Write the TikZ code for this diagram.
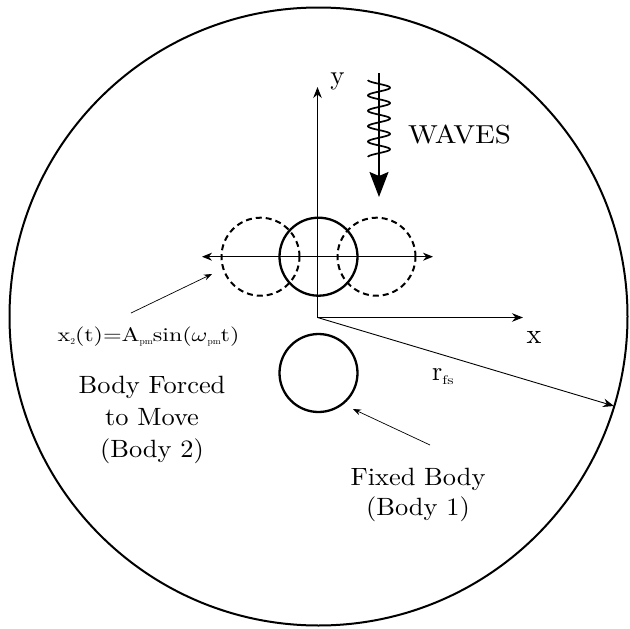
\documentclass[tikz,border=0pt]{standalone}
\usetikzlibrary{arrows.meta}
\usepackage{graphicx}
\newcommand{\bigtx}[1]{\scalebox{2.64}[2.5]{#1}}
\newcommand{\eqtx}[1]{\scalebox{2.4}[1.95]{#1}}
\newcommand{\subtx}[1]{\raisebox{-2.5pt}{\scalebox{0.95}[0.9]{#1}}}
\begin{document}
\begin{tikzpicture}[x=1pt,y=-1pt,
  ax/.style={line width=0.9pt,-{Stealth[length=11pt,width=8.5pt]}},
  lbl/.style={line width=0.7pt,-{Stealth[length=8pt,width=6pt]}},
  body/.style={circle,draw,line width=2.3pt,minimum size=78pt,inner sep=0pt},
  ghost/.style={circle,draw,line width=2pt,dash pattern=on 6pt off 4pt,minimum size=78pt,inner sep=0pt},
  txt/.style={inner sep=0pt},
]
\useasboundingbox (0,0) rectangle (630,629);
% outer free-surface circle
\coordinate (C) at (318.5,316.5);
\draw[line width=2pt] (C) circle[radius=309];
% axes
\coordinate (O) at (317.5,317.5);
\coordinate (ytip) at (317.5,87);
\coordinate (xtip) at (523,317.5);
\draw[ax] (O) -- (ytip);
\draw[ax] (O) -- (xtip);
\node[txt,anchor=base] (ylab) at (337.5,84) {\scalebox{2.7}{y}};
\node[txt,anchor=base] (xlab) at (534,343) {\scalebox{2.8}{x}};
% radius
\coordinate (rend) at (614,406);
\draw[ax] (O) -- (rend);
\node[txt,anchor=base west] (rlab) at (432,380) {\scalebox{2.6}[2.7]{r}\raisebox{-4pt}{\scalebox{1.6}[1.25]{fs}}};
% body 2 and its displaced positions
\node[ghost] (b2l) at (260.5,256.7) {};
\node[ghost] (b2r) at (376.5,256.7) {};
\coordinate (hl) at (202,256.7);
\coordinate (hr) at (433,256.7);
\draw[line width=0.9pt,{Stealth[length=10pt,width=8pt]}-{Stealth[length=10pt,width=8pt]}] (hl) -- (hr);
\node[body] (b2) at (318.5,256.7) {};
% body 1
\node[body] (b1) at (318.5,373) {};
% waves
\coordinate (wtop) at (379,73);
\coordinate (wtip) at (379,197);
\draw[line width=1.6pt,-{Stealth[length=25pt,width=19pt,inset=4pt]}] (wtop) -- (wtip);
\draw[line width=1.7pt,domain=0:5,samples=160,smooth] plot ({379-11*cos(360*\x)},{80+15.4*\x});
\node[txt,anchor=base west] (waves) at (408,143) {\scalebox{2.9}[2.6]{WAVES}};
% labels
\node[txt,anchor=base] (eq) at (148.5,341.7) {\eqtx{x}\subtx{2}\eqtx{(t)=A}\subtx{pm}\eqtx{sin($\omega$}\subtx{pm}\eqtx{t)}};
\coordinate (a1s) at (131,313);
\coordinate (a1e) at (212,274);
\draw[lbl] (a1s) -- (a1e);
\node[txt] (b2lab) at (152,419) {\bigtx{\def\arraystretch{1.083}\begin{tabular}{@{}c@{}}Body Forced\\to Move\\(Body 2)\end{tabular}}};
\node[txt] (b1lab) at (418,494.3) {\bigtx{\def\arraystretch{1.033}\begin{tabular}{@{}c@{}}Fixed Body\\(Body 1)\end{tabular}}};
\coordinate (a2s) at (430,445);
\coordinate (a2e) at (353,409);
\draw[lbl] (a2s) -- (a2e);
\end{tikzpicture}
\end{document}
